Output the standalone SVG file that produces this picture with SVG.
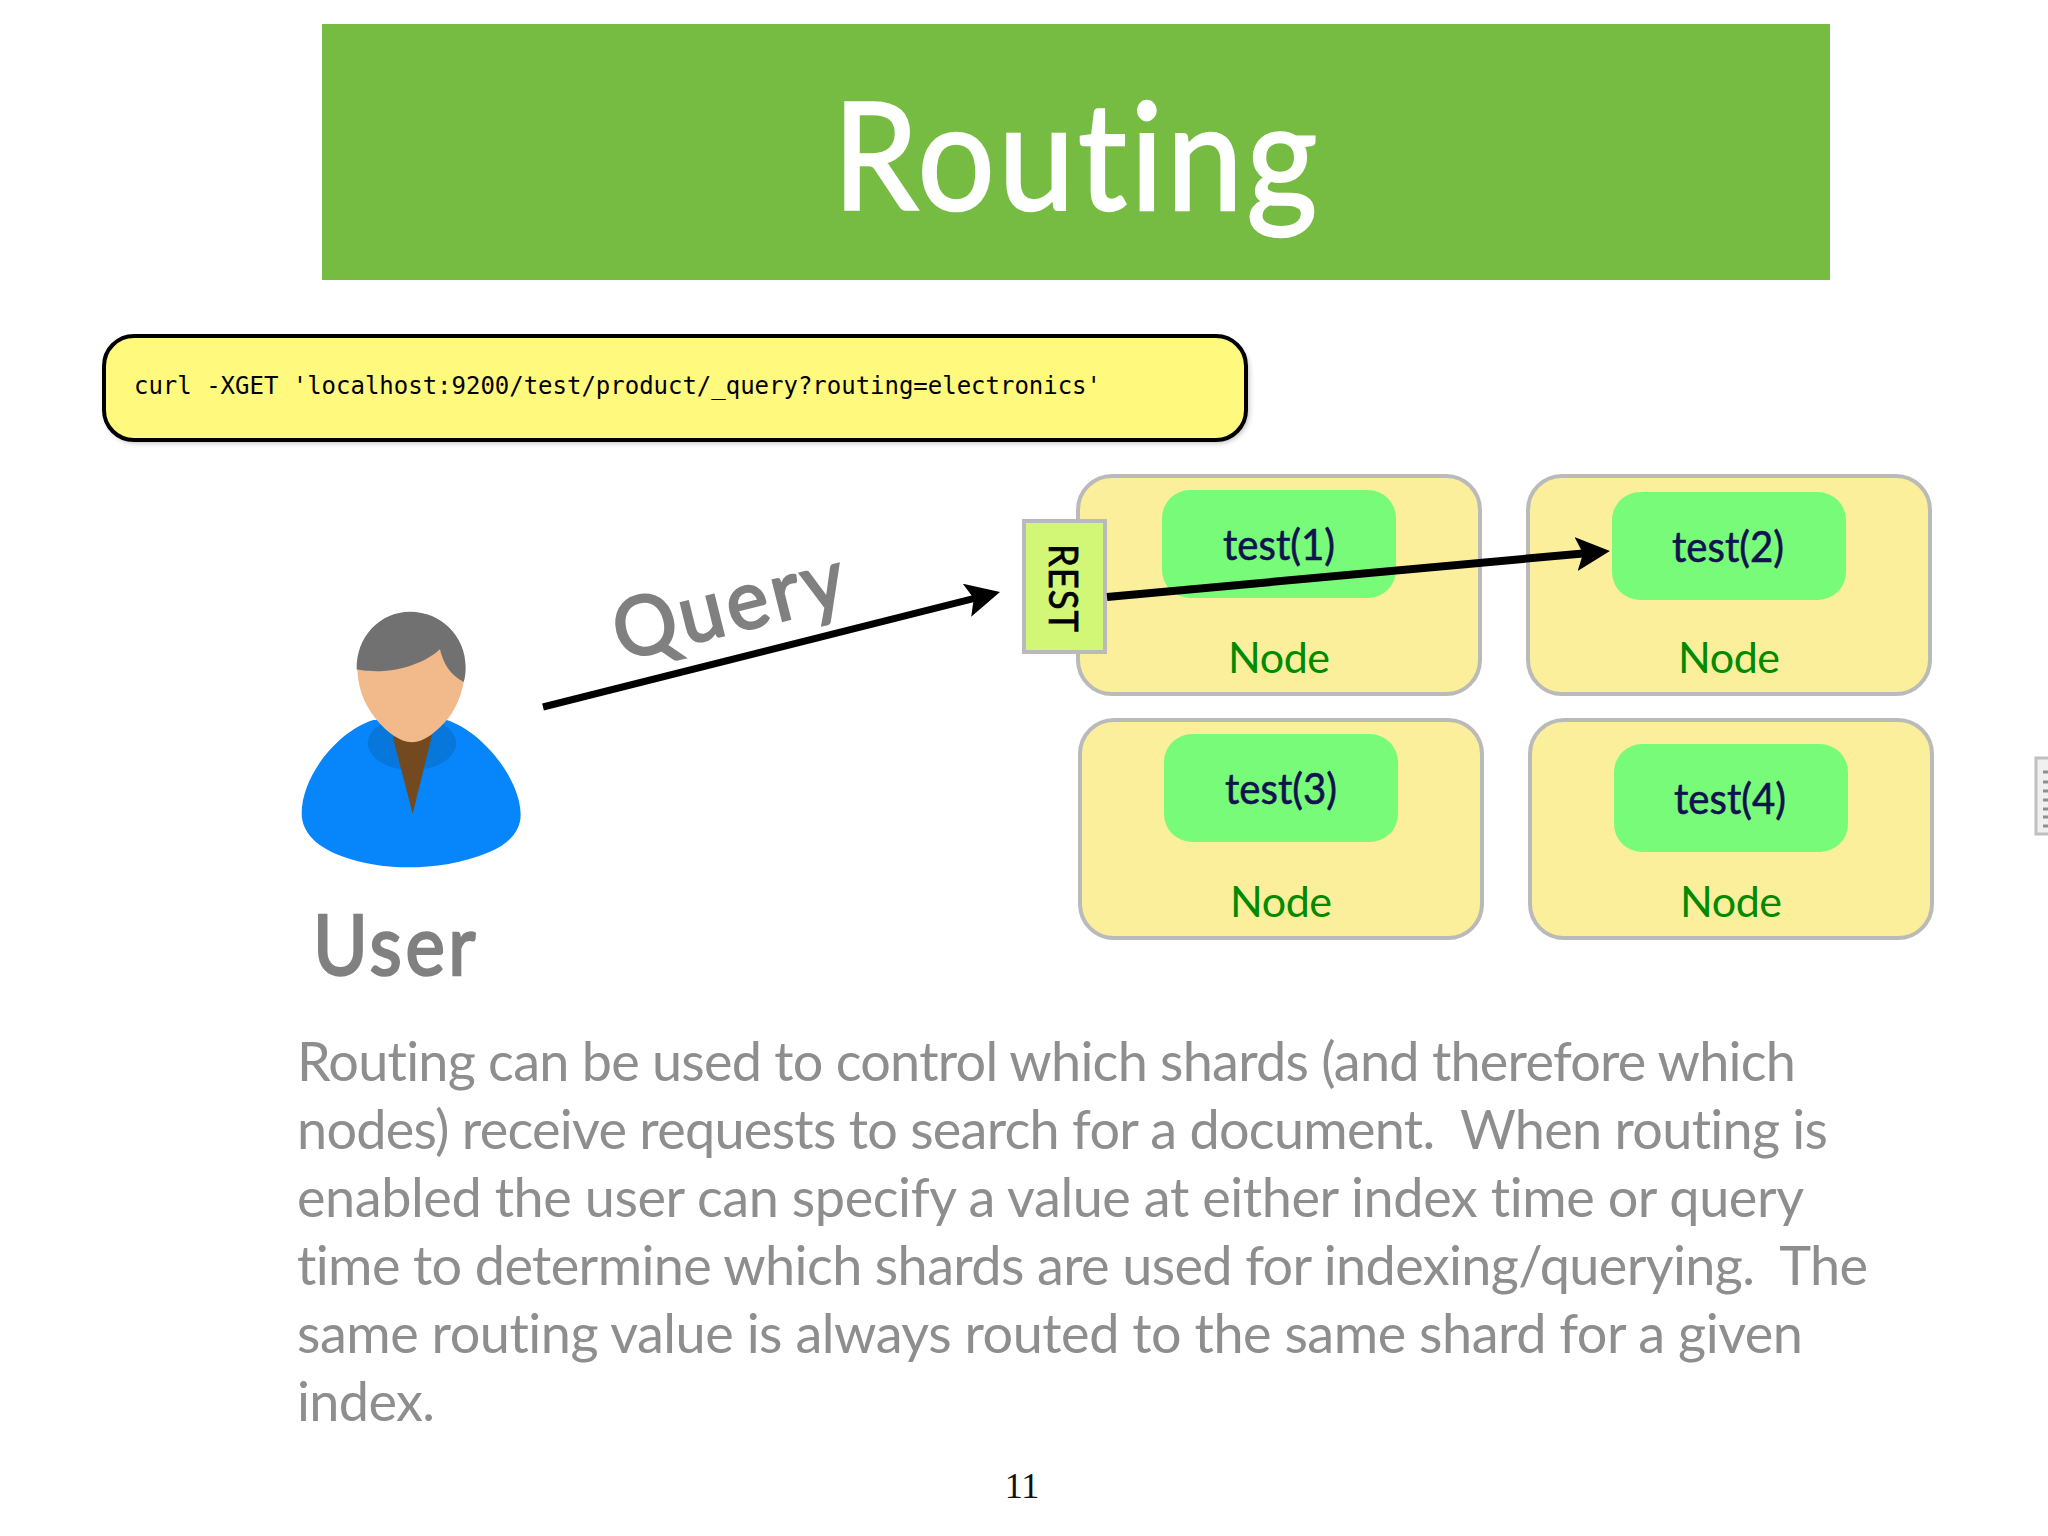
<svg xmlns="http://www.w3.org/2000/svg" width="2048" height="1536" viewBox="0 0 2048 1536">
<defs>
<style>
text{font-family:"Lato","Noto Sans",sans-serif;font-variant-ligatures:none}
.node{fill:#fbef9c;stroke:#bababa;stroke-width:4}
.shard{fill:#78fb78}
.shardt{font-size:43px;fill:#12124f;text-anchor:middle;stroke:#12124f;stroke-width:.6}
.nodet{font-size:43px;fill:#008a00;text-anchor:middle}
.para{font-size:54px;fill:#8e8e8e;white-space:pre}
.conn{stroke:#000;fill:none}
</style>
<marker id="arrow" markerUnits="userSpaceOnUse" markerWidth="40" markerHeight="40" refX="24" refY="17" orient="auto">
<path d="M0 0L34 17L0 34L7 17Z" fill="#000"/>
</marker>
<filter id="soft" x="-5%" y="-20%" width="110%" height="140%"><feGaussianBlur stdDeviation="3"/></filter>
</defs>
<rect width="2048" height="1536" fill="#fff"/>
<g id="title">
<rect x="322" y="24" width="1508" height="256" fill="#76bb42"/>
<text x="1077" y="210" font-size="150" letter-spacing="4" fill="#fff" stroke="#fff" stroke-width="2.5" text-anchor="middle" textLength="488" lengthAdjust="spacingAndGlyphs">Routing</text>
</g>
<g id="command">
<rect x="106" y="340" width="1142" height="102" rx="30" fill="#000" opacity=".35" filter="url(#soft)"/>
<rect x="104" y="336" width="1142" height="104" rx="30" fill="#fff97e" stroke="#000" stroke-width="4"/>
<text x="134" y="394" style="font-family:'DejaVu Sans Mono',monospace" font-size="24" fill="#000" textLength="967">curl -XGET 'localhost:9200/test/product/_query?routing=electronics'</text>
</g>
<g id="user">
<g transform="translate(280 580) scale(.3333)">
<path d="M280 420C170 455 65 590 65 700C65 760 115 805 190 830C250 852 320 862 385 862C460 862 550 850 630 815C690 790 722 750 722 705C722 600 610 455 500 420Z" fill="#0785fb"/>
<ellipse cx="396" cy="490" rx="133" ry="80" fill="#0877db"/>
<path d="M338 470L456 466L398 702Z" fill="#73491f"/>
<path d="M232 268C235 340 262 385 290 420C320 455 360 487 395 487C435 487 475 450 505 415C530 380 545 345 552 300L470 180L260 180Z" fill="#f2b98a"/>
<path d="M230 268C228 170 300 95 390 95C485 95 557 170 557 260C557 280 555 295 551 306C510 285 490 250 480 208C440 245 370 272 300 274C270 274 245 272 230 268Z" fill="#717171"/>
</g>
<text x="313" y="975" font-size="84" letter-spacing="4" fill="#808080" stroke="#808080" stroke-width="2.5" textLength="166" lengthAdjust="spacingAndGlyphs">User</text>
</g>
<g id="node1">
<rect class="node" x="1078" y="476" width="402" height="218" rx="34"/>
<rect class="shard" x="1162" y="490" width="234" height="108" rx="28"/>
<text class="shardt" x="1279" y="560" textLength="112" lengthAdjust="spacingAndGlyphs">test(1)</text>
<text class="nodet" x="1279" y="673" textLength="102">Node</text>
</g>
<g id="node2">
<rect class="node" x="1528" y="476" width="402" height="218" rx="34"/>
<rect class="shard" x="1612" y="492" width="234" height="108" rx="28"/>
<text class="shardt" x="1728" y="562" textLength="112" lengthAdjust="spacingAndGlyphs">test(2)</text>
<text class="nodet" x="1729" y="673" textLength="102">Node</text>
</g>
<g id="node3">
<rect class="node" x="1080" y="720" width="402" height="218" rx="34"/>
<rect class="shard" x="1164" y="734" width="234" height="108" rx="28"/>
<text class="shardt" x="1281" y="804" textLength="112" lengthAdjust="spacingAndGlyphs">test(3)</text>
<text class="nodet" x="1281" y="917" textLength="102">Node</text>
</g>
<g id="node4">
<rect class="node" x="1530" y="720" width="402" height="218" rx="34"/>
<rect class="shard" x="1614" y="744" width="234" height="108" rx="28"/>
<text class="shardt" x="1730" y="814" textLength="112" lengthAdjust="spacingAndGlyphs">test(4)</text>
<text class="nodet" x="1731" y="917" textLength="102">Node</text>
</g>
<g id="rest">
<rect x="1024" y="521" width="81" height="131" fill="#d2f777" stroke="#bababa" stroke-width="4"/>
<text transform="translate(1049 544) rotate(90)" font-size="41" letter-spacing="1" fill="#000" stroke="#000" stroke-width=".7" textLength="89" lengthAdjust="spacingAndGlyphs">REST</text>
</g>
<g id="connectors">
<line class="conn" x1="543" y1="707" x2="990.3" y2="594.4" stroke-width="7" marker-end="url(#arrow)"/>
<line class="conn" x1="1107" y1="597" x2="1600" y2="551.9" stroke-width="8" marker-end="url(#arrow)"/>
</g>
<text id="query" transform="translate(621 661) rotate(-14)" font-size="82" letter-spacing="4" fill="#808080" stroke="#808080" stroke-width="2.5" textLength="239" lengthAdjust="spacingAndGlyphs">Query</text>
<g id="doc-icon">
<rect x="2036" y="758" width="16" height="76" fill="#f0f0f0" stroke="#c0c0c0" stroke-width="3"/>
<path d="M2043 772H2048M2043 782H2048M2043 791H2048M2043 800H2048M2043 809H2048M2043 817H2048M2043 826H2048" stroke="#8f8f8f" stroke-width="3"/>
</g>
<g id="description">
<text class="para" x="297" y="1081" textLength="1499">Routing can be used to control which shards (and therefore which</text>
<text class="para" x="297" y="1149" textLength="1531">nodes) receive requests to search for a document.  When routing is</text>
<text class="para" x="297" y="1217" textLength="1507">enabled the user can specify a value at either index time or query</text>
<text class="para" x="297" y="1285" textLength="1571">time to determine which shards are used for indexing/querying.  The</text>
<text class="para" x="297" y="1353" textLength="1506">same routing value is always routed to the same shard for a given</text>
<text class="para" x="297" y="1421" textLength="138">index.</text>
</g>
<text id="page" x="1022" y="1498" font-size="36" fill="#111" text-anchor="middle" style="font-family:'Liberation Serif',serif">11</text>
</svg>
